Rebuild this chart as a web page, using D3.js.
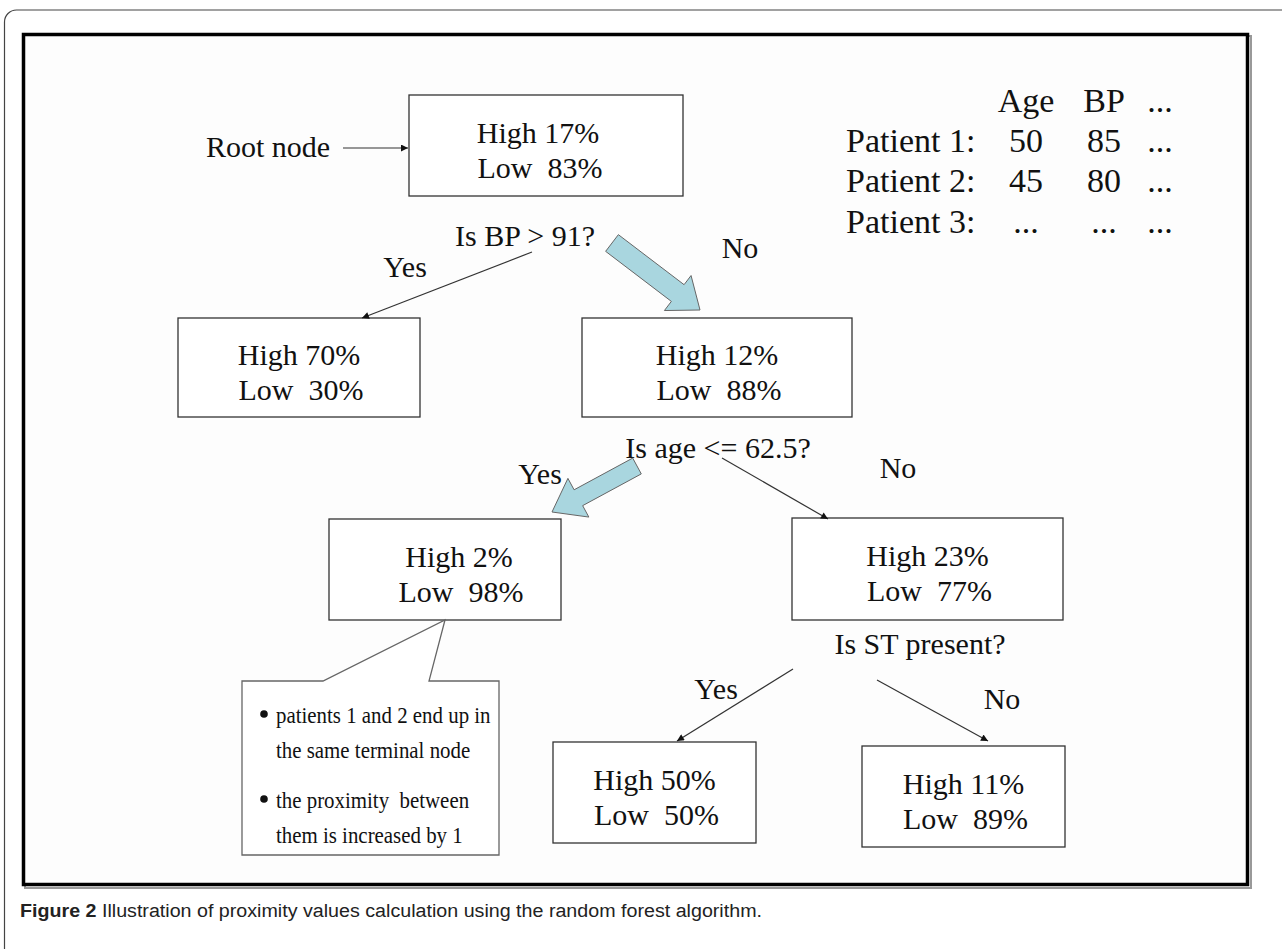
<!DOCTYPE html>
<html>
<head>
    <title></title>
    <style>
        body {
            margin: 0;
            background: #fff;
        }
        text {
            font-family: "Liberation Serif", serif;
            fill: #111;
            white-space: pre;
        }
        .node rect {
            fill: #fff;
            stroke: #333;
            stroke-width: 1.3px;
        }
        .thin {
            stroke: #333;
            stroke-width: 1.2px;
            fill: none;
        }
        .fat {
            fill: #a9d6df;
            stroke: #666;
            stroke-width: 1px;
        }
        .caption {
            font-family: "Liberation Sans Narrow", "Liberation Sans", sans-serif;
            fill: #222;
        }
    </style>
</head>
<body>
<script src="https://cdnjs.cloudflare.com/ajax/libs/d3/7.8.5/d3.min.js"></script>
<script>
    var width = 1282;
    var height = 949;

    // tree values
    var nodeHigh = [17, 70, 12, 2, 23, 50, 11];
    var nodeLow = [83, 30, 88, 98, 77, 50, 89];
    var questions = ["Is BP > 91?", "Is age <= 62.5?", "Is ST present?"];
    var answers = ["Yes", "No", "Yes", "No", "Yes", "No"];

    // patient table
    var tableHead = ["Age", "BP", "..."];
    var patients = ["Patient 1:", "Patient 2:", "Patient 3:"];
    var ageVals = ["50", "45", "..."];
    var bpVals = ["85", "80", "..."];
    var moreVals = ["...", "...", "..."];

    var notes = [["patients 1 and 2 end up in", "the same terminal node"],
                 ["the proximity  between", "them is increased by 1"]];

    // layout of boxes  [x, y, w, h, text shift]
    var boxes = [
        [409, 95, 274, 101, -8],
        [178, 318, 242, 99, 0],
        [582, 318, 270, 99, 0],
        [329, 519, 232, 101, 14],
        [792, 518, 271, 102, 0],
        [553, 742, 203, 101, 0],
        [862, 746, 203, 101, 0]
    ];
    var qPos = [[525, 246], [718, 458], [920, 654]];
    var aPos = [[405, 277], [740, 258], [540, 484], [898, 478], [716, 699], [1002, 709]];
    // thin arrows  [x1, y1, x2, y2]
    var thinArrows = [
        [343, 148, 408, 148],
        [532, 252, 362, 318],
        [722, 458, 828, 519],
        [793, 669, 677, 741],
        [877, 680, 988, 741]
    ];
    // fat arrows [tailx, taily, tipx, tipy, shaft, headW, headL]
    var fatArrows = [
        [612, 243, 700, 310, 21, 44, 28],
        [637, 466, 552, 512, 18, 44, 30]
    ];

    var svg = d3.select("body").append("svg")
            .attr("width", width)
            .attr("height", height);

    svg.append("defs").append("marker")
            .attr("id", "head")
            .attr("viewBox", "0 0 10 10")
            .attr("refX", 10).attr("refY", 5)
            .attr("markerWidth", 8).attr("markerHeight", 7)
            .attr("markerUnits", "userSpaceOnUse")
            .attr("orient", "auto")
            .append("path").attr("d", "M0,0L10,5L0,10z").attr("fill", "#111");

    // outer rounded frame
    svg.append("path")
            .attr("d", "M4.5," + (height + 5) + "V22a12,12 0 0 1 12,-12H" + (width + 5))
            .attr("fill", "none").attr("stroke", "#444").attr("stroke-width", 1.2);

    // figure box
    svg.append("rect").attr("x", 25).attr("y", 36).attr("width", 1226).attr("height", 852)
            .attr("fill", "none").attr("stroke", "#999").attr("stroke-width", 2);
    svg.append("rect").attr("x", 23.5).attr("y", 34.5).attr("width", 1224).attr("height", 850)
            .attr("fill", "#fdfdfd").attr("stroke", "#000").attr("stroke-width", 3.5);

    // nodes
    var node = svg.selectAll("g.node").data(boxes).enter().append("g").attr("class", "node");
    node.append("rect")
            .attr("x", function(d) {return d[0];})
            .attr("y", function(d) {return d[1];})
            .attr("width", function(d) {return d[2];})
            .attr("height", function(d) {return d[3];});
    node.append("text")
            .attr("x", function(d) {return d[0] + d[2] / 2 + d[4];})
            .attr("y", function(d) {return d[1] + d[3] / 2 - 3;})
            .attr("text-anchor", "middle")
            .style("font-size", "30px")
            .text(function(d, i) {return "High " + nodeHigh[i] + "%";});
    node.append("text")
            .attr("x", function(d) {return d[0] + d[2] / 2 + d[4] + 2;})
            .attr("y", function(d) {return d[1] + d[3] / 2 + 32;})
            .attr("text-anchor", "middle")
            .style("font-size", "30px")
            .text(function(d, i) {return "Low  " + nodeLow[i] + "%";});

    // questions + answers
    svg.selectAll("text.q").data(questions).enter().append("text")
            .attr("class", "q")
            .attr("x", function(d, i) {return qPos[i][0];})
            .attr("y", function(d, i) {return qPos[i][1];})
            .attr("text-anchor", "middle")
            .style("font-size", "30px")
            .text(function(d) {return d;});
    svg.selectAll("text.a").data(answers).enter().append("text")
            .attr("class", "a")
            .attr("x", function(d, i) {return aPos[i][0];})
            .attr("y", function(d, i) {return aPos[i][1];})
            .attr("text-anchor", "middle")
            .style("font-size", "30px")
            .text(function(d) {return d;});

    svg.append("text").attr("x", 206).attr("y", 157).style("font-size", "30px").text("Root node");

    // arrows
    svg.selectAll("line.thin").data(thinArrows).enter().append("line")
            .attr("class", "thin")
            .attr("x1", function(d) {return d[0];})
            .attr("y1", function(d) {return d[1];})
            .attr("x2", function(d) {return d[2];})
            .attr("y2", function(d) {return d[3];})
            .attr("marker-end", "url(#head)");

    svg.selectAll("path.fat").data(fatArrows).enter().append("path")
            .attr("class", "fat")
            .attr("d", fatPath);

    function fatPath(d) {
        var dx = d[2] - d[0], dy = d[3] - d[1];
        var len = Math.sqrt(dx * dx + dy * dy);
        var ux = dx / len, uy = dy / len;
        var px = -uy, py = ux;
        var s = d[4] / 2, h = d[5] / 2;
        var bx = d[2] - ux * d[6], by = d[3] - uy * d[6];
        var pts = [
            [d[0] + px * s, d[1] + py * s],
            [bx + px * s, by + py * s],
            [bx + px * h, by + py * h],
            [d[2], d[3]],
            [bx - px * h, by - py * h],
            [bx - px * s, by - py * s],
            [d[0] - px * s, d[1] - py * s]
        ];
        return "M" + pts.join("L") + "Z";
    }

    // patient table
    var colX = [1026, 1104, 1160];
    var rowY = [112, 152, 192, 233];
    var tbl = svg.append("g").style("font-size", "34px");
    tbl.selectAll("text.h").data(tableHead).enter().append("text")
            .attr("x", function(d, i) {return colX[i];})
            .attr("y", rowY[0])
            .attr("text-anchor", "middle")
            .text(function(d) {return d;});
    tbl.selectAll("text.p").data(patients).enter().append("text")
            .attr("x", 846)
            .attr("y", function(d, i) {return rowY[i + 1];})
            .text(function(d) {return d;});
    [ageVals, bpVals, moreVals].forEach(function(col, c) {
        tbl.selectAll(null).data(col).enter().append("text")
                .attr("x", colX[c])
                .attr("y", function(d, i) {return rowY[i + 1];})
                .attr("text-anchor", "middle")
                .text(function(d) {return d;});
    });

    // callout
    svg.append("path")
            .attr("d", "M242,681H323L445,620L429,681H499V855H242Z")
            .attr("fill", "#fff").attr("stroke", "#666").attr("stroke-width", 1.3);
    notes.forEach(function(lines, k) {
        svg.append("circle").attr("cx", 264).attr("cy", 714 + k * 85).attr("r", 3.8).attr("fill", "#111");
        lines.forEach(function(t, j) {
            var txt = svg.append("text").attr("x", 276).attr("y", 723 + k * 85 + j * 35)
                    .style("font-size", "24px").text(t);
            // squeeze a little, the original face is narrower for its height
            var w = txt.node().getComputedTextLength();
            txt.attr("textLength", w * 0.87).attr("lengthAdjust", "spacingAndGlyphs");
        });
    });

    // caption
    var cap = svg.append("text").attr("class", "caption")
            .attr("x", 20).attr("y", 917)
            .attr("textLength", 742).attr("lengthAdjust", "spacingAndGlyphs")
            .style("font-size", "18px");
    cap.append("tspan").style("font-weight", "bold").text("Figure 2");
    cap.append("tspan").text(" Illustration of proximity values calculation using the random forest algorithm.");
</script>
</body>
</html>
